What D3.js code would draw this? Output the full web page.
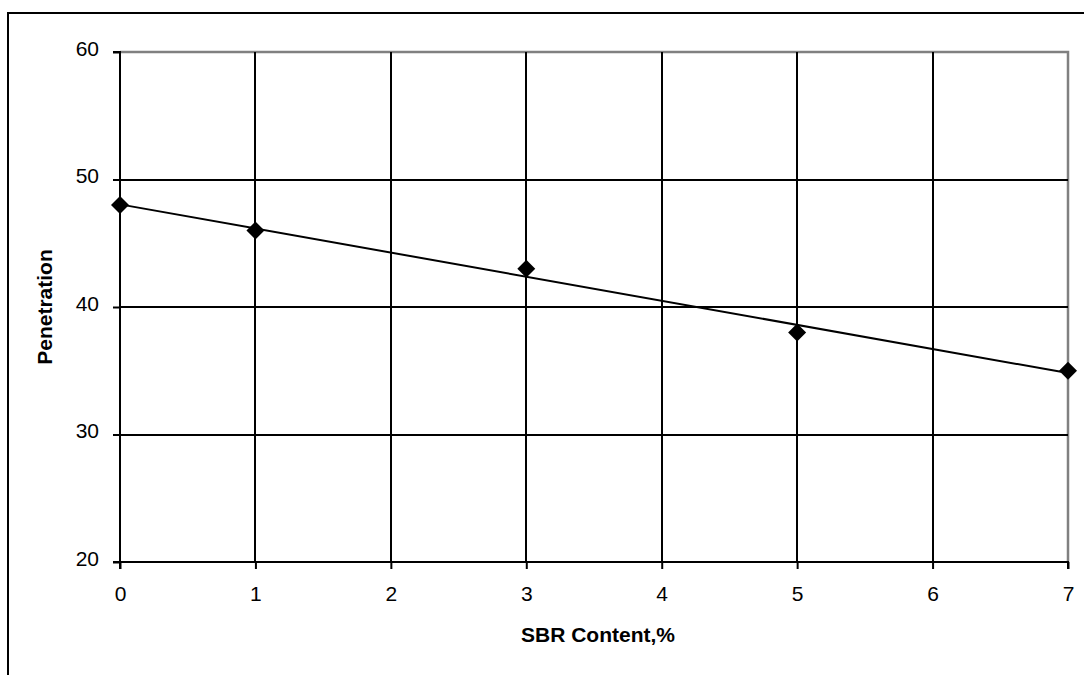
<!DOCTYPE html>
<html>
<head>
<meta charset="utf-8">
<script src="https://d3js.org/d3.v7.min.js"></script>
<style>
  body { margin: 0; background: #fff; }
  text { font-family: "Liberation Sans", Arial, sans-serif; fill: #000; }
</style>
</head>
<body>
<script>
// data
var sbrContent = [0, 1, 3, 5, 7];
var penetration = [48, 46, 43, 38, 35];
var xTicks = [0, 1, 2, 3, 4, 5, 6, 7];
var yTicks = [20, 30, 40, 50, 60];

var W = 1084, H = 675;
var pLeft = 120, pTop = 52, pRight = 1068, pBottom = 562;

var svg = d3.select("body").append("svg")
    .attr("width", W)
    .attr("height", H);

// outer chart border (runs off the right/bottom of the picture)
svg.append("rect")
    .attr("x", 8).attr("y", 13)
    .attr("width", W).attr("height", H)
    .attr("fill", "none")
    .attr("stroke", "#000")
    .attr("stroke-width", 2);

var x = d3.scaleLinear().domain([0, 7]).range([pLeft, pRight]);
var y = d3.scaleLinear().domain([20, 60]).range([pBottom, pTop]);

// plot area border, gray on top and right
svg.append("path")
    .attr("d", "M" + pLeft + "," + pTop + "H" + pRight + "V" + pBottom)
    .attr("fill", "none")
    .attr("stroke", "#808080")
    .attr("stroke-width", 2.5);

// gridlines
svg.append("g").selectAll("line")
    .data(yTicks.filter(function (d) { return d > 20 && d < 60; }))
    .enter().append("line")
    .attr("x1", pLeft).attr("x2", pRight)
    .attr("y1", function (d) { return Math.round(y(d)); })
    .attr("y2", function (d) { return Math.round(y(d)); })
    .attr("stroke", "#000")
    .attr("stroke-width", 2);

svg.append("g").selectAll("line")
    .data(xTicks.filter(function (d) { return d > 0 && d < 7; }))
    .enter().append("line")
    .attr("x1", function (d) { return Math.round(x(d)); })
    .attr("x2", function (d) { return Math.round(x(d)); })
    .attr("y1", pTop).attr("y2", pBottom)
    .attr("stroke", "#000")
    .attr("stroke-width", 2);

// axes
var yAxis = svg.append("g")
    .attr("transform", "translate(" + pLeft + ",0)")
    .call(d3.axisLeft(y).tickValues(yTicks).tickFormat(d3.format("d")).tickSize(7).tickPadding(14));
var xAxis = svg.append("g")
    .attr("transform", "translate(0," + pBottom + ")")
    .call(d3.axisBottom(x).tickValues(xTicks).tickFormat(d3.format("d")).tickSize(7).tickPadding(17));

[xAxis, yAxis].forEach(function (a) {
  a.select(".domain").attr("stroke", "#000").attr("stroke-width", 2);
  a.selectAll(".tick line").attr("stroke", "#000").attr("stroke-width", 2);
  a.selectAll("text")
      .style("font-family", "'Liberation Sans', Arial, sans-serif")
      .style("font-size", "21px")
      .attr("fill", "#000");
});
yAxis.selectAll(".tick text").attr("dy", "0.15em");
yAxis.select(".domain").attr("d", "M-7," + pTop + "H0V" + pBottom + "H-7");
xAxis.select(".domain").attr("d", "M" + pLeft + ",7V0H" + pRight + "V7");

// linear trendline (least squares from the points)
var mx = d3.mean(sbrContent), my = d3.mean(penetration);
var sxy = d3.sum(sbrContent, function (d, i) { return (d - mx) * (penetration[i] - my); });
var sxx = d3.sum(sbrContent, function (d) { return (d - mx) * (d - mx); });
var slope = sxy / sxx, icept = my - slope * mx;

svg.append("line")
    .attr("x1", x(0)).attr("y1", y(icept))
    .attr("x2", x(7)).attr("y2", y(icept + slope * 7))
    .attr("stroke", "#000")
    .attr("stroke-width", 2);

// diamond markers
svg.append("g").selectAll("path")
    .data(sbrContent)
    .enter().append("path")
    .attr("d", d3.symbol().type(d3.symbolDiamond2).size(206))
    .attr("transform", function (d, i) { return "translate(" + x(d) + "," + y(penetration[i]) + ")"; })
    .attr("fill", "#000");

// axis titles
svg.append("text")
    .attr("x", 598)
    .attr("y", 642)
    .attr("text-anchor", "middle")
    .style("font-size", "21px")
    .style("font-weight", "bold")
    .text("SBR Content,%");

svg.append("text")
    .attr("transform", "translate(52,307) rotate(-90)")
    .attr("text-anchor", "middle")
    .style("font-size", "21px")
    .style("font-weight", "bold")
    .text("Penetration");
</script>
</body>
</html>
